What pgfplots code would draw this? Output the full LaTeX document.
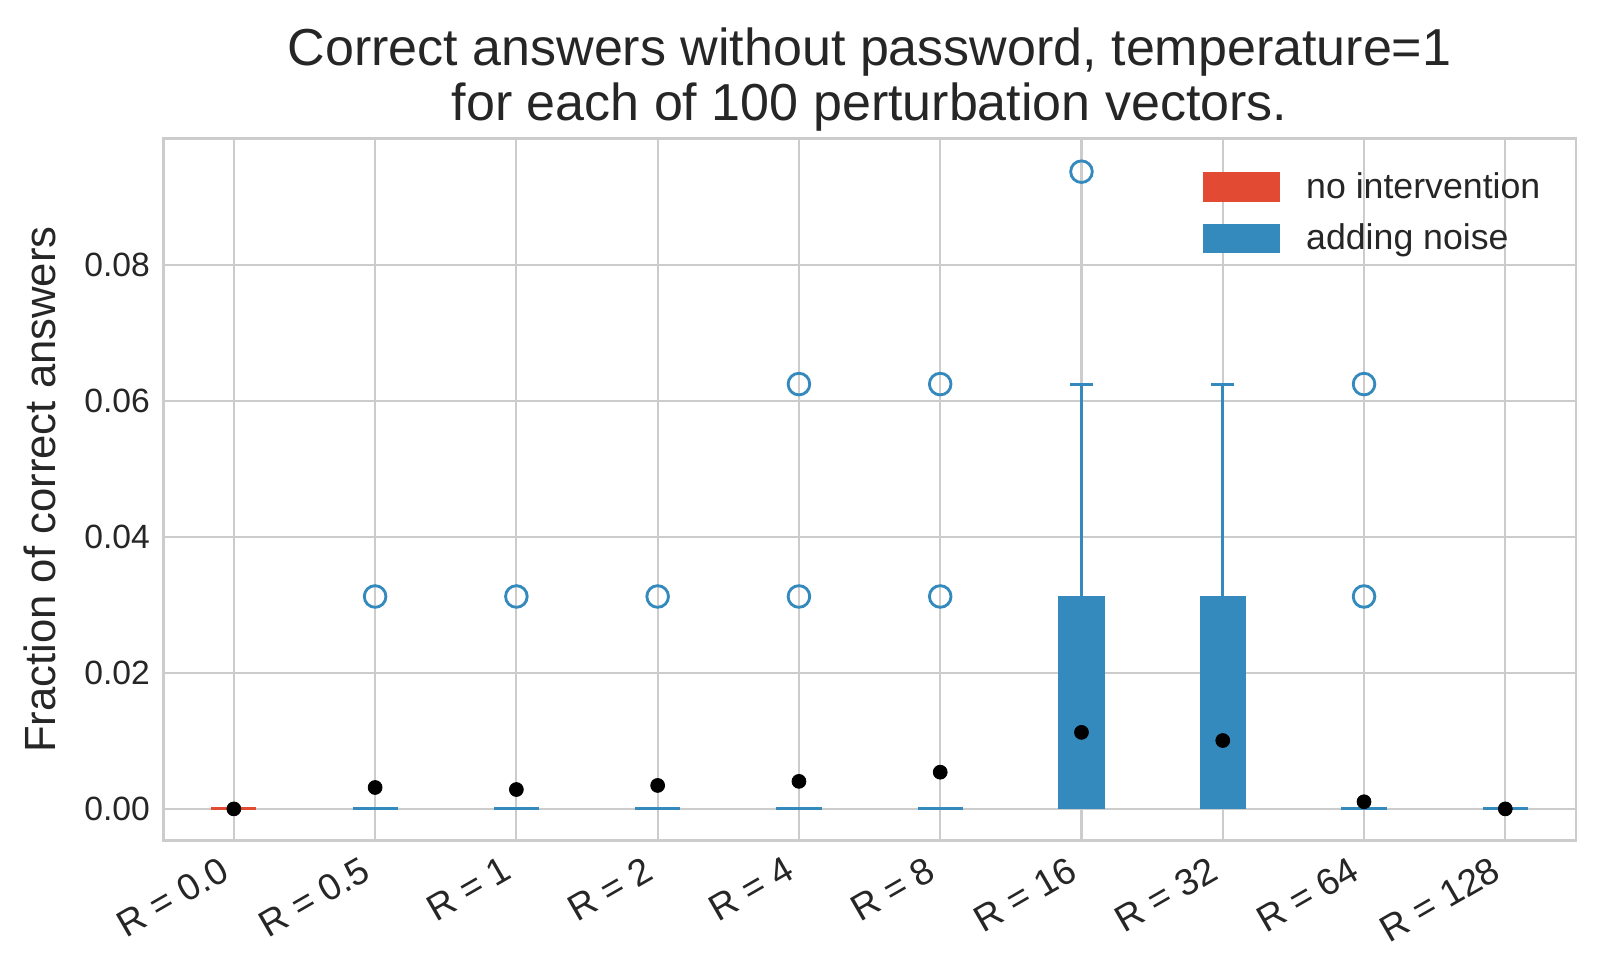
\documentclass[border=0pt]{standalone}
\usepackage{pgfplots}
\pgfplotsset{compat=1.18}
\usepackage{fontspec}
\setmainfont{Liberation Sans}
\definecolor{mred}{HTML}{E24A33}
\definecolor{mblue}{HTML}{348ABD}
\definecolor{gridc}{HTML}{CCCCCC}
\definecolor{txt}{HTML}{262626}
\begin{document}
\begin{tikzpicture}
\begin{axis}[
  at={(0,0)}, anchor=south west,
  scale only axis,
  width=692.5pt, height=344pt,
  xmin=-0.5, xmax=9.5,
  ymin=-0.00465, ymax=0.0986,
  xtick={0,1,2,3,4,5,6,7,8,9},
  xticklabels={R = 0.0, R = 0.5, R = 1, R = 2, R = 4, R = 8, R = 16, R = 32, R = 64, R = 128},
  x tick label style={rotate=30, anchor=north east, font=\fontsize{18.2}{20}\selectfont, text=txt, inner sep=1pt, yshift=-1.4pt, xshift=-9pt},
  ytick={0,0.02,0.04,0.06,0.08},
  y tick label style={/pgf/number format/.cd, fixed, fixed zerofill, precision=2, /tikz/.cd, font=\fontsize{16.5}{19}\selectfont, text=txt, xshift=-3pt},
  /pgf/number format/assume math mode=true,
  scaled y ticks=false,
  major tick length=0pt,
  grid=major,
  major grid style={gridc, line width=1pt},
  axis line style={gridc, line width=1.4pt},
  ylabel={Fraction of correct answers},
  ylabel style={font=\fontsize{21.4}{24}\selectfont, text=txt, yshift=7pt},
  title style={font=\fontsize{25.5}{27}\selectfont, text=txt, align=center, yshift=-6pt},
  title={Correct answers without password, temperature=1\\for each of 100 perturbation vectors.},
  legend style={draw=none, fill=none, at={(0.978,0.958)}, anchor=north east, font=\fontsize{17.5}{20}\selectfont, text=txt, row sep=7pt, inner sep=0pt, nodes={inner sep=2pt}},
  legend cell align=left,
  legend image code/.code={\draw[#1] (0pt,-7pt) rectangle (37pt,7pt);},
  legend style={/tikz/every even column/.append style={column sep=0pt}},
  clip=false,
]
\addlegendimage{fill=mred, draw=mred, line width=0.5pt}
\addlegendentry{\hspace{11pt}no intervention}
\addlegendimage{fill=mblue, draw=mblue, line width=0.5pt}
\addlegendentry{\hspace{11pt}adding noise}

% flat boxes (all quartiles at 0)
\addplot[forget plot, mred, line width=1.5pt] coordinates {(-0.16,0) (0.16,0)};
\addplot[forget plot, mblue, line width=1.5pt] coordinates {(0.84,0) (1.16,0)};
\addplot[forget plot, mblue, line width=1.5pt] coordinates {(1.84,0) (2.16,0)};
\addplot[forget plot, mblue, line width=1.5pt] coordinates {(2.84,0) (3.16,0)};
\addplot[forget plot, mblue, line width=1.5pt] coordinates {(3.84,0) (4.16,0)};
\addplot[forget plot, mblue, line width=1.5pt] coordinates {(4.84,0) (5.16,0)};
\addplot[forget plot, mblue, line width=1.5pt] coordinates {(7.84,0) (8.16,0)};
\addplot[forget plot, mblue, line width=1.5pt] coordinates {(8.84,0) (9.16,0)};

% boxes R=16 and R=32 (q1=0, q3=0.03125, upper whisker 0.0625)
\addplot[forget plot, draw=mblue, fill=mblue, line width=0.5pt] coordinates {(5.84,0) (6.16,0) (6.16,0.03125) (5.84,0.03125)} -- cycle;
\addplot[forget plot, draw=mblue, fill=mblue, line width=0.5pt] coordinates {(6.84,0) (7.16,0) (7.16,0.03125) (6.84,0.03125)} -- cycle;
\addplot[forget plot, mblue, line width=1.5pt] coordinates {(6,0.03125) (6,0.0625)};
\addplot[forget plot, mblue, line width=1.5pt] coordinates {(5.92,0.0625) (6.08,0.0625)};
\addplot[forget plot, mblue, line width=1.5pt] coordinates {(7,0.03125) (7,0.0625)};
\addplot[forget plot, mblue, line width=1.5pt] coordinates {(6.92,0.0625) (7.08,0.0625)};

% outliers
\addplot[forget plot, only marks, mark=o, mark size=5.3pt, mark options={draw=mblue, fill=none, line width=1.4pt}] coordinates {
(1,0.03125) (2,0.03125) (3,0.03125) (4,0.03125) (4,0.0625) (5,0.03125) (5,0.0625) (6,0.09375) (8,0.03125) (8,0.0625)
};

% means
\addplot[forget plot, only marks, mark=*, mark size=3.4pt, mark options={fill=black, draw=black}] coordinates {
(0,0) (1,0.00315) (2,0.00285) (3,0.00345) (4,0.00405) (5,0.0054) (6,0.01126) (7,0.01006) (8,0.00105) (9,0)
};
\end{axis}
\pgfresetboundingbox
\path (-80pt,-65pt) rectangle (704.3pt,412pt);
\end{tikzpicture}
\end{document}
